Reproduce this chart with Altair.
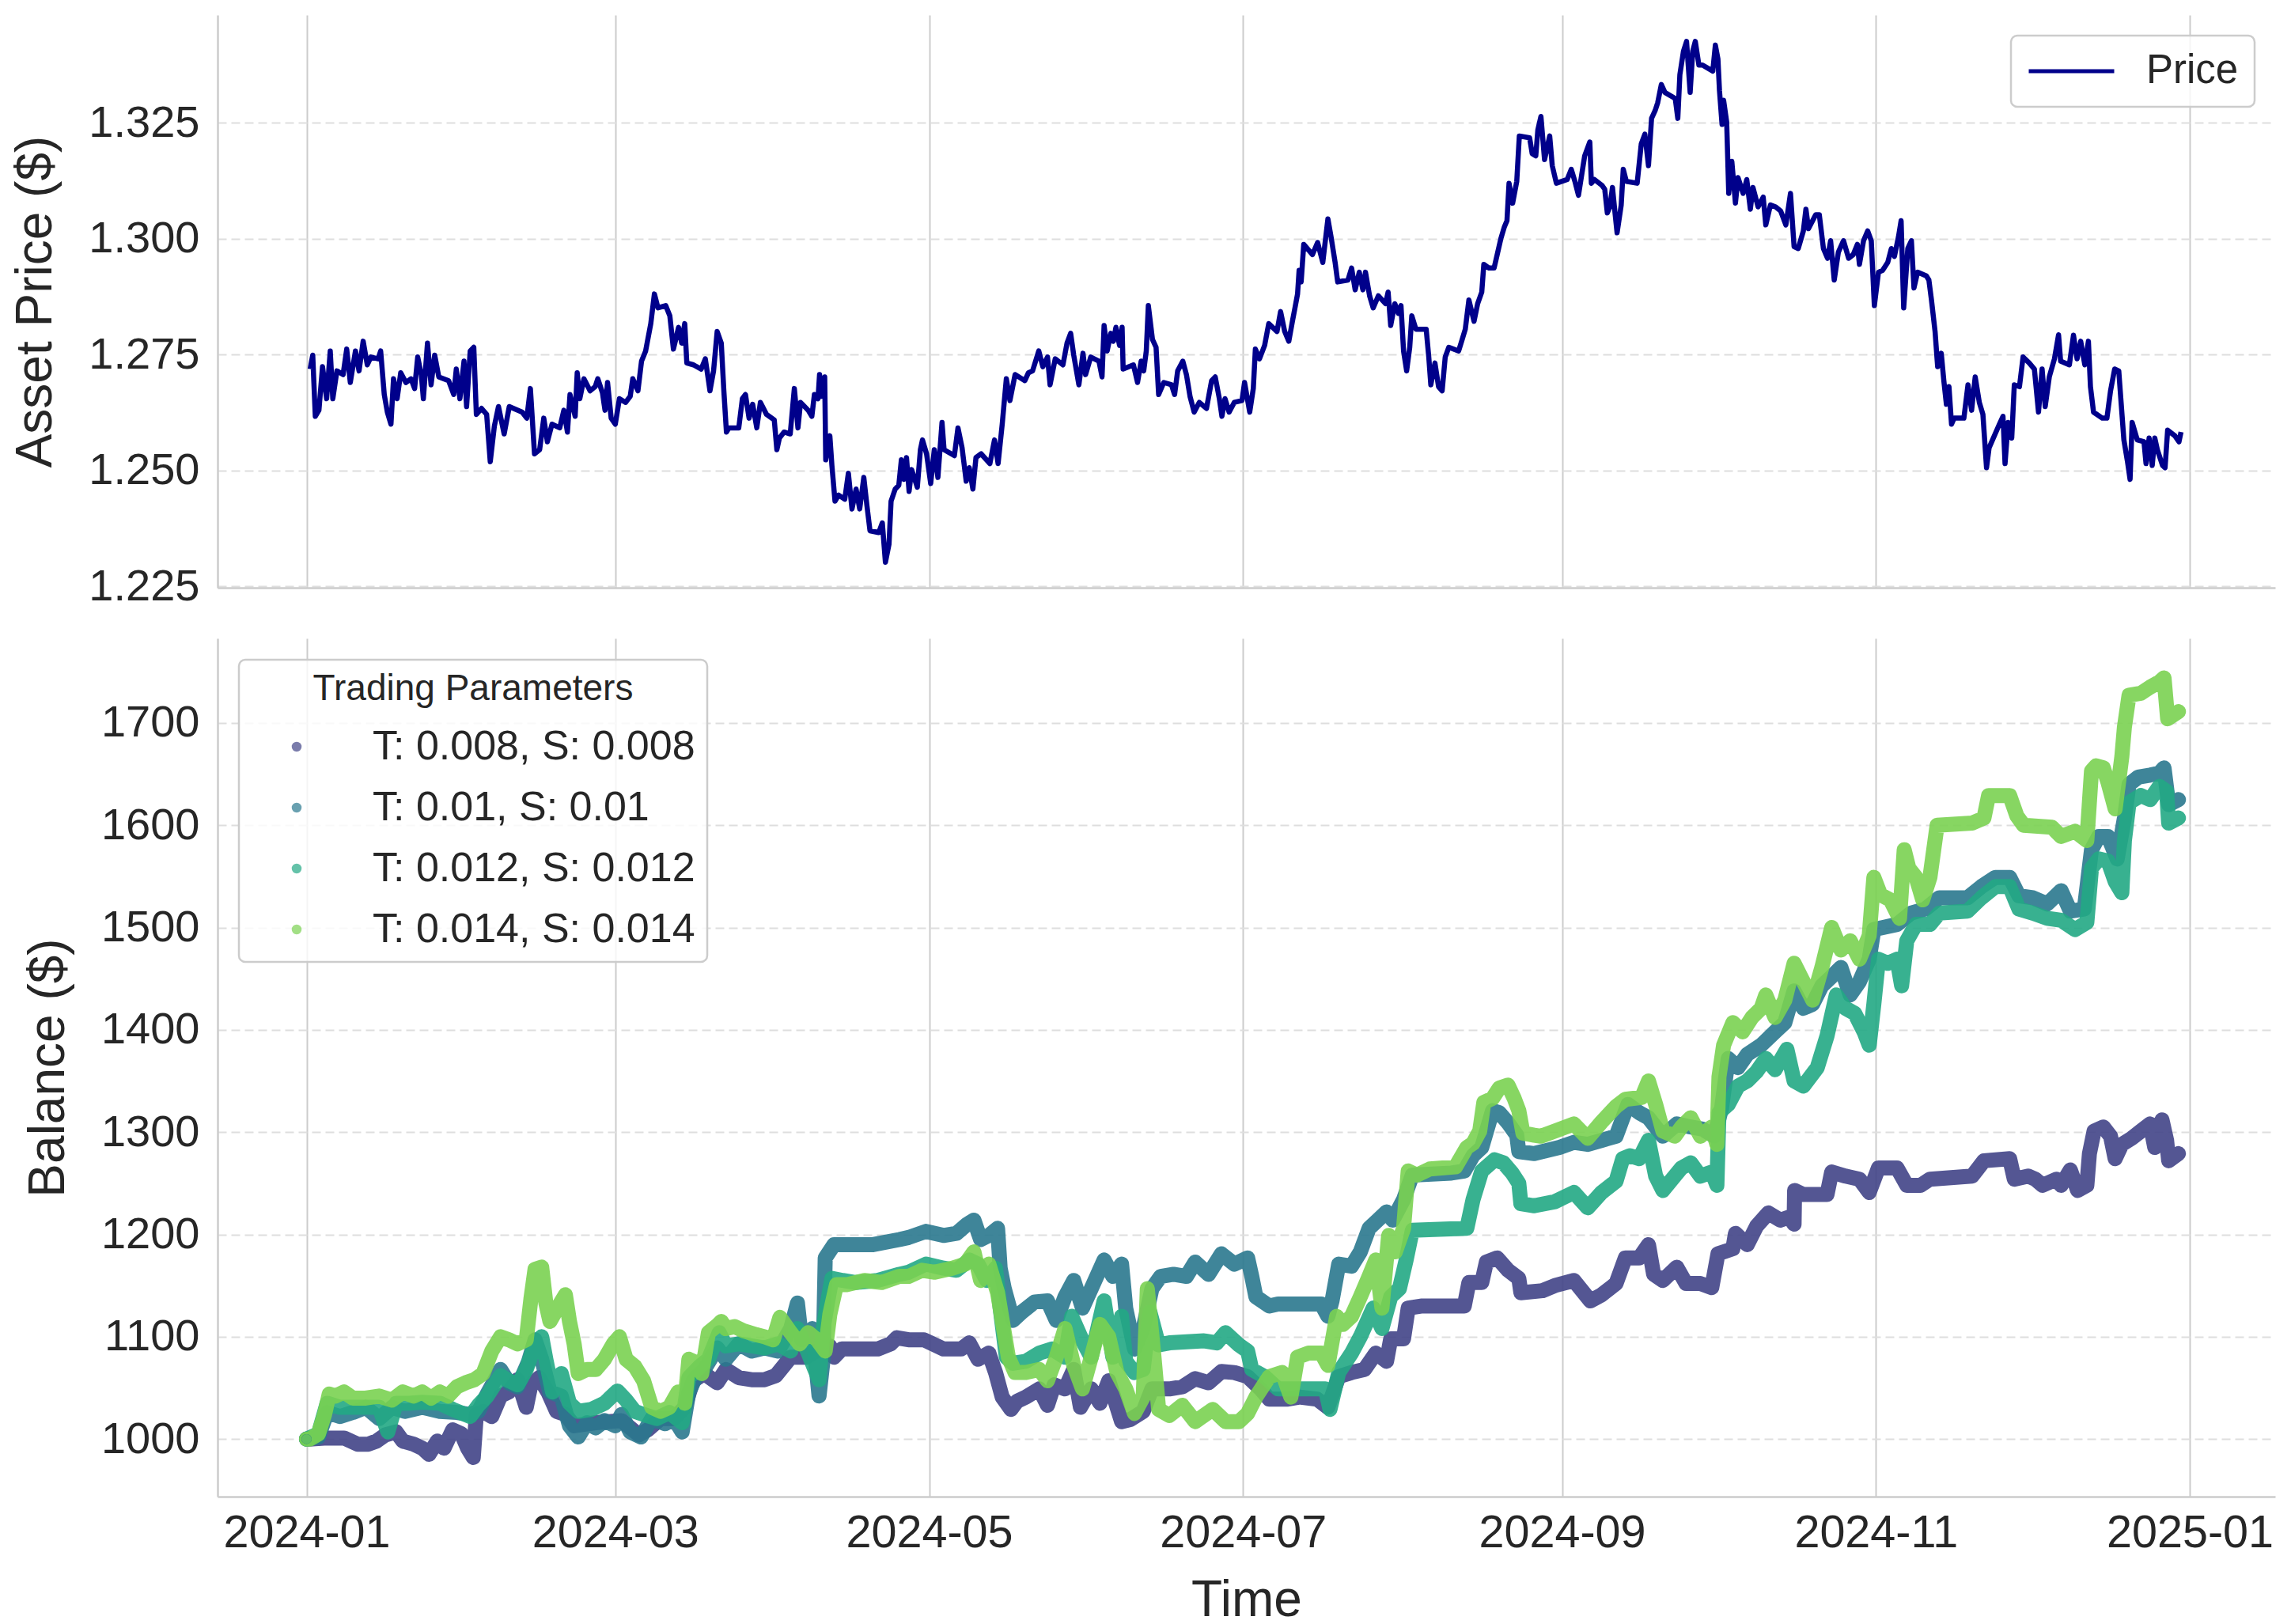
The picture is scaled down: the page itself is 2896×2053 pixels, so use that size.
import altair as alt
import pandas as pd

# ---------------- data (day offset from 2024-01-01, value) -------------
price_points = [
    (0.7,1.2719),(1.2,1.2749),(1.7,1.2617),(2.4,1.2630),(3.1,1.2724),(3.9,1.2655),(4.6,1.2758),(5.1,1.2655),
    (5.9,1.2715),(7.1,1.2707),(7.8,1.2762),(8.5,1.2690),(9.5,1.2758),(10.2,1.2715),(11.0,1.2779),(11.8,1.2728),
    (12.5,1.2745),(13.9,1.2741),(14.4,1.2758),(15.1,1.2664),(15.7,1.2626),(16.4,1.2600),(16.9,1.2698),(17.6,1.2655),
    (18.3,1.2711),(19.3,1.2690),(20.3,1.2698),(21.0,1.2677),(21.6,1.2745),(22.3,1.2707),(22.7,1.2655),(23.5,1.2775),
    (24.2,1.2685),(24.9,1.2749),(25.7,1.2702),(27.6,1.2694),(28.6,1.2664),(29.1,1.2719),(29.8,1.2655),(30.6,1.2736),
    (31.1,1.2638),(31.8,1.2758),(32.5,1.2766),(33.0,1.2621),(34.0,1.2634),(35.0,1.2621),(35.7,1.2519),(36.5,1.2596),
    (37.3,1.2638),(38.4,1.2579),(39.4,1.2638),(41.9,1.2626),(42.8,1.2613),(43.5,1.2677),(44.3,1.2536),(45.3,1.2545),
    (46.1,1.2613),(46.8,1.2562),(47.7,1.2600),(49.2,1.2592),(50.0,1.2630),(50.7,1.2583),(51.2,1.2664),(52.2,1.2617),
    (52.6,1.2711),(53.1,1.2655),(53.9,1.2698),(55.1,1.2672),(56.1,1.2681),(56.6,1.2698),(57.5,1.2668),(58.0,1.2630),
    (58.5,1.2690),(59.2,1.2613),(60.0,1.2600),(60.8,1.2655),(62.0,1.2647),(62.9,1.2660),(63.4,1.2698),(64.4,1.2672),
    (65.1,1.2736),(65.9,1.2758),(66.9,1.2817),(67.6,1.2881),(68.3,1.2851),(69.8,1.2856),(70.6,1.2834),(71.3,1.2762),
    (72.3,1.2809),(72.9,1.2775),(73.5,1.2817),(73.9,1.2732),(75.2,1.2728),(76.7,1.2719),(77.5,1.2741),(78.4,1.2672),
    (79.1,1.2715),(79.8,1.2800),(80.6,1.2775),(81.1,1.2672),(81.6,1.2583),(82.1,1.2592),(84.0,1.2592),(84.7,1.2655),
    (85.3,1.2664),(86.0,1.2613),(86.7,1.2643),(87.5,1.2592),(88.2,1.2647),(89.4,1.2621),(90.9,1.2609),(91.4,1.2545),
    (91.9,1.2570),(92.8,1.2583),
    (94.0,1.2579),(94.8,1.2677),(95.5,1.2592),(96.0,1.2647),(97.5,1.2630),(98.2,1.2617),(98.7,1.2664),(99.4,1.2655),
    (99.7,1.2707),(100.1,1.2660),(100.7,1.2702),(100.9,1.2523),(101.7,1.2575),(102.1,1.2511),(102.7,1.2434),(103.4,1.2447),
    (104.6,1.2438),(105.3,1.2494),(106.0,1.2417),(106.8,1.2460),(107.5,1.2417),(108.3,1.2485),(108.9,1.2425),(109.5,1.2370),
    (111.2,1.2366),(111.9,1.2387),(112.5,1.2302),(113.2,1.2341),(113.6,1.2434),(114.4,1.2460),(115.1,1.2468),(115.6,1.2523),
    (116.1,1.2481),(116.6,1.2528),(117.1,1.2455),(117.6,1.2502),(118.7,1.2464),(119.3,1.2545),(119.7,1.2566),(120.5,1.2536),
    (121.3,1.2472),(122.0,1.2545),(122.7,1.2485),(123.5,1.2604),(123.9,1.2545),(125.9,1.2532),(126.6,1.2592),(127.4,1.2549),
    (128.2,1.2477),(128.8,1.2506),(129.5,1.2460),(130.1,1.2528),(131.1,1.2536),(132.8,1.2515),(133.7,1.2566),(134.4,1.2515),
    (135.2,1.2600),(136.0,1.2698),(136.7,1.2651),(137.7,1.2707),(139.6,1.2694),(140.3,1.2711),(141.1,1.2715),(142.3,1.2758),
    (143.1,1.2724),(144.0,1.2745),(144.5,1.2685),(145.5,1.2741),(147.0,1.2728),(147.8,1.2775),(148.5,1.2796),(149.1,1.2749),
    (150.1,1.2685),(150.9,1.2753),(151.4,1.2707),(152.4,1.2745),(154.0,1.2736),(154.6,1.2702),(155.0,1.2813),(155.6,1.2758),
    (156.3,1.2796),(156.8,1.2779),(157.3,1.2809),(158.0,1.2770),(158.5,1.2809),(158.7,1.2719),(160.7,1.2728),(161.5,1.2690),
    (162.2,1.2736),(162.7,1.2715),(163.2,1.2758),(163.6,1.2856),(164.4,1.2783),(165.1,1.2766),(165.6,1.2664),(166.6,1.2690),
    (168.1,1.2685),(168.7,1.2664),(169.3,1.2715),(170.3,1.2736),(171.0,1.2707),(171.7,1.2660),(172.5,1.2626),(173.5,1.2647),
    (174.9,1.2634),(175.9,1.2694),(176.6,1.2702),(177.4,1.2655),(177.9,1.2617),(178.5,1.2655),(179.3,1.2626),(180.3,1.2647),
    (181.8,1.2651),(182.3,1.2690),(183.3,1.2626),(184.0,1.2677),(184.4,1.2762),(185.2,1.2741),(186.2,1.2770),(187.0,1.2817),
    (188.6,1.2800),(189.3,1.2843),(190.1,1.2800),(190.9,1.2779),(191.6,1.2822),(192.1,1.2851),(192.6,1.2881),(192.9,1.2932),
    (193.3,1.2907),(193.8,1.2988),(195.5,1.2966),(196.5,1.2992),(197.5,1.2949),(198.5,1.3043),(199.1,1.3005),(199.9,1.2949),
    (200.4,1.2907),(202.4,1.2911),(203.1,1.2937),(203.8,1.2890),(204.6,1.2928),(205.3,1.2890),(205.8,1.2928),(206.6,1.2877),
    (207.3,1.2851),(208.3,1.2877),(209.7,1.2860),(210.2,1.2885),(210.7,1.2813),(211.5,1.2860),(212.2,1.2839),(212.7,1.2856),
    (213.2,1.2758),(213.8,1.2715),(214.4,1.2766),(214.8,1.2834),(215.6,1.2805),(217.6,1.2805),(218.1,1.2745),(218.5,1.2685),
    (219.3,1.2732),(220.0,1.2681),(220.7,1.2672),(221.3,1.2745),(222.0,1.2766),(223.9,1.2758),(224.6,1.2783),(225.2,1.2805),
    (225.9,1.2868),(226.9,1.2822),(227.6,1.2860),(228.4,1.2885),(228.8,1.2945),(229.8,1.2937),(230.8,1.2937),(231.5,1.2971),
    (232.1,1.3000),(232.8,1.3026),(233.3,1.3039),(233.7,1.3120),(234.4,1.3077),(235.2,1.3124),(235.7,1.3222),(237.7,1.3218),
    (238.2,1.3184),(238.9,1.3179),(239.3,1.3235),(239.9,1.3264),(240.6,1.3171),(241.6,1.3222),(242.1,1.3158),(242.9,1.3120),
    (245.0,1.3128),(245.8,1.3150),(246.5,1.3124),(247.2,1.3094),
    (248.4,1.3179),(249.4,1.3209),(249.7,1.3120),(250.3,1.3128),(251.8,1.3115),(252.3,1.3107),(252.8,1.3056),(253.3,1.3069),
    (253.8,1.3111),(254.3,1.3056),(254.7,1.3013),(255.5,1.3073),(255.9,1.3150),(256.5,1.3124),(258.6,1.3120),(259.4,1.3205),
    (260.1,1.3226),(260.8,1.3158),(261.4,1.3260),(262.1,1.3277),(262.6,1.3294),(263.3,1.3333),(264.0,1.3316),(266.0,1.3303),
    (266.5,1.3260),(266.9,1.3354),(267.6,1.3405),(268.2,1.3426),(268.9,1.3316),(269.4,1.3405),(269.9,1.3426),(270.6,1.3375),
    (271.3,1.3375),(273.3,1.3362),(273.8,1.3418),(274.3,1.3388),(274.6,1.3320),(275.1,1.3247),(275.4,1.3299),(276.0,1.3252),
    (276.4,1.3098),(277.0,1.3167),(277.7,1.3077),(278.2,1.3132),(279.2,1.3098),(279.9,1.3128),(280.6,1.3064),(281.1,1.3111),
    (282.1,1.3069),(283.1,1.3090),(283.6,1.3030),(284.5,1.3073),(285.5,1.3069),(286.5,1.3060),(287.5,1.3030),(288.4,1.3098),
    (289.1,1.2983),(289.9,1.2979),(290.9,1.3017),(291.4,1.3064),(291.9,1.3022),(293.3,1.3052),(294.0,1.3052),(294.8,1.2979),
    (295.6,1.2958),(296.2,1.2996),(296.9,1.2911),(297.7,1.2971),(298.7,1.2996),(299.7,1.2958),(300.6,1.2966),(301.4,1.2988),
    (301.8,1.2945),(302.6,1.2996),(303.4,1.3017),(304.1,1.2996),(304.7,1.2856),(305.5,1.2928),(306.3,1.2932),(307.3,1.2949),
    (308.0,1.2979),(308.6,1.2962),(309.4,1.3005),(309.9,1.3039),(310.4,1.2851),(311.2,1.2979),(311.9,1.2996),(312.4,1.2894),
    (313.1,1.2928),(314.8,1.2920),(315.3,1.2911),(315.8,1.2868),(316.5,1.2800),(317.0,1.2724),(317.7,1.2753),(318.2,1.2694),
    (318.7,1.2643),(319.2,1.2681),(319.7,1.2600),(320.2,1.2613),(322.1,1.2613),(322.9,1.2685),(323.6,1.2630),(324.3,1.2702),
    (325.1,1.2647),(325.8,1.2621),(326.5,1.2506),(327.0,1.2549),(329.0,1.2600),(329.7,1.2617),(330.1,1.2515),(330.7,1.2604),
    (331.4,1.2570),(331.9,1.2685),(332.9,1.2681),(333.6,1.2745),(334.8,1.2732),(335.8,1.2719),(336.6,1.2626),(337.3,1.2719),
    (337.9,1.2638),(338.7,1.2702),(339.7,1.2741),(340.5,1.2793),(340.9,1.2736),(342.6,1.2728),(343.4,1.2792),(344.1,1.2741),
    (344.8,1.2779),(345.6,1.2728),(346.3,1.2779),(346.7,1.2681),(347.3,1.2626),(349.0,1.2613),(349.9,1.2613),(350.6,1.2672),
    (351.4,1.2719),(352.2,1.2715),(352.6,1.2655),(353.2,1.2566),(353.9,1.2519),(354.4,1.2481),(354.8,1.2604),(355.8,1.2566),
    (357.1,1.2562),(357.5,1.2515),(358.1,1.2570),(358.7,1.2511),(359.2,1.2570),(359.7,1.2545),(360.7,1.2511),(361.2,1.2506),
    (361.7,1.2587),(363.1,1.2575),(363.9,1.2562),(364.3,1.2583),
]

series_names = ["T: 0.008, S: 0.008", "T: 0.01, S: 0.01", "T: 0.012, S: 0.012", "T: 0.014, S: 0.014"]
series_colors = ["#414487", "#2a788e", "#22a884", "#7ad151"]

s008_points = [
    (0,1000),(0.6,1000),(4.0,1001),(7.3,1001),(9.9,995),(12.0,995),(13.6,998),(15.3,1004),(17.4,1007),(18.7,998),
    (20.8,995),(22.5,991),(23.8,985),(25.4,998),(26.7,991),(28.4,1009),(30.1,1005),(31.3,991),(32.4,982),(33.0,1024),
    (34.3,1027),(36.0,1022),(37.7,1042),(39.3,1046),(41.0,1058),(42.7,1031),(43.6,1053),(45.2,1060),(46.9,1046),(48.6,1027),
    (50.3,1024),(52.0,1013),(56.2,1016),(61.2,1018),(64.6,1004),(66.3,1009),(68.8,1020),(71.4,1020),(73.5,1031),(75.1,1057),
    (77.3,1064),(79.8,1055),(81.5,1068),(84.0,1060),(86.5,1058),(89.0,1058),(91.2,1062),(94.1,1080),(97.1,1080),(98.3,1084),
    (100.0,1088),(101.7,1091),(102.5,1080),(104.0,1088),(111.0,1088),(113.5,1093),(114.7,1099),(117.0,1097),
    (120.0,1097),(123.8,1088),(127.2,1088),(128.8,1094),(130.5,1078),(132.6,1084),(133.9,1065),(135.2,1041),(136.9,1029),
    (138.1,1037),(139.8,1041),(142.4,1049),(144.0,1033),(145.3,1053),(147.4,1049),(149.1,1068),(150.4,1031),(152.5,1049),
    (154.2,1035),(155.9,1057),(158.4,1017),(160.1,1019),(162.6,1027),(164.3,1049),(167.7,1049),(170.2,1051),(172.7,1059),
    (175.3,1055),(177.8,1066),(180.3,1065),(182.9,1061),(185.4,1049),(187.1,1039),(190.5,1039),(193.0,1041),(196.4,1039),
    (198.5,1031),(200.6,1061),(203.1,1065),(205.6,1068),(207.8,1084),(209.9,1076),(210.7,1098),(213.2,1098),(214.1,1128),
    (216.6,1130),(225.0,1130),(225.9,1153),(228.4,1153),(229.3,1173),(231.4,1177),(233.5,1165),(235.6,1157),(236.0,1143),
    (240.2,1145),(242.6,1150),(246.3,1155),(249.5,1135),(251.7,1141),(254.5,1152),(256.3,1177),(259.0,1177),(260.8,1190),
    (261.8,1161),(263.6,1155),(266.3,1168),(268.1,1152),(270.9,1152),(273.1,1148),(274.3,1181),(277.2,1186),(277.7,1201),
    (280.0,1190),(281.8,1208),(284.1,1221),(286.4,1214),(288.2,1217),(289.1,1210),(289.2,1243),(290.9,1239),(295.5,1239),
    (296.4,1261),(299.1,1257),(301.8,1254),(303.7,1241),(305.5,1265),(309.1,1265),(311.0,1248),(313.7,1248),(315.5,1254),
    (323.7,1257),(326.0,1272),(331.0,1274),(331.9,1254),(334.6,1257),(336.0,1254),(337.4,1248),(340.1,1254),(341.0,1248),
    (342.8,1263),(344.2,1243),(346.0,1248),(346.5,1279),(347.4,1301),(349.2,1305),(350.6,1296),(351.5,1274),(352.8,1288),
    (354.7,1294),(356.5,1301),(358.3,1308),(359.2,1285),(360.6,1312),(361.5,1292),(361.9,1272),(363.8,1279),
]

s010_points = [
    (0,1000),(2.3,1002),(4.0,1026),(6.5,1022),(9.0,1026),(11.5,1031),(14.1,1020),(16.6,1031),(19.1,1027),(22.5,1031),
    (25.9,1027),(29.2,1026),(31.8,1024),(33.4,1027),(35.1,1044),(37.7,1068),(39.3,1055),(41.0,1051),(43.1,1075),(44.4,1097),
    (45.7,1078),(47.3,1046),(49.5,1042),(51.1,1013),(52.8,1002),(54.5,1016),(56.2,1011),(57.9,1018),(60.0,1013),(61.2,1024),
    (62.9,1007),(65.0,1002),(67.1,1020),(69.7,1015),(71.4,1020),(73.0,1007),(74.3,1046),(75.6,1060),(77.3,1068),(79.8,1089),
    (81.5,1078),(84.0,1093),(86.5,1086),(89.0,1089),(91.6,1086),(94.1,1108),(95.4,1133),(96.2,1097),(98.3,1108),(99.6,1042),
    (100.4,1078),(100.8,1177),(102.5,1190),(110.1,1190),(115.2,1195),
    (117.0,1197),(120.4,1203),(123.8,1199),(126.3,1201),(128.4,1210),(129.7,1214),(131.0,1195),(132.6,1199),(134.3,1206),
    (134.8,1167),(135.6,1147),(137.3,1116),(139.0,1124),(141.5,1134),(144.0,1135),(145.7,1116),(147.4,1139),(149.1,1155),
    (150.8,1128),(152.5,1147),(155.0,1175),(156.7,1159),(158.4,1171),(159.2,1128),(160.9,1088),(162.6,1108),(164.3,1147),
    (166.0,1159),(168.5,1161),(171.0,1159),(172.7,1173),(175.3,1161),(177.8,1181),(180.3,1171),(182.9,1177),(183.7,1159),
    (184.5,1139),(187.1,1130),(188.8,1132),(197.2,1132),(198.5,1120),(199.3,1135),(200.6,1171),(203.1,1169),(204.8,1183),
    (206.5,1206),(208.2,1214),(209.9,1222),(211.1,1214),(213.2,1234),(214.9,1258),(222.5,1260),(225.0,1262),(226.7,1277),
    (228.4,1285),(230.5,1321),(231.8,1319),(233.5,1309),(235.2,1297),(235.6,1281),(238.6,1279),
    (243.5,1285),(246.3,1290),(249.0,1288),(251.7,1292),(254.5,1296),(256.8,1327),(259.0,1319),(260.8,1314),(263.6,1296),
    (266.3,1308),(269.0,1305),(271.3,1303),(273.6,1296),(275.0,1323),(276.3,1372),(278.2,1363),(280.0,1376),(282.7,1385),
    (285.4,1398),(287.3,1407),(289.1,1438),(290.9,1421),(292.7,1425),(294.5,1443),(296.4,1452),(298.2,1461),(300.0,1434),
    (301.8,1447),(303.7,1469),(304.6,1498),(306.4,1500),(309.1,1503),(311.8,1514),(314.6,1518),(317.3,1529),(322.8,1529),
    (325.5,1540),(328.2,1549),(331.0,1549),(332.8,1531),(335.5,1529),(338.3,1523),(341.0,1536),(342.8,1516),(345.5,1518),
    (346.9,1576),(348.3,1589),(350.1,1589),(351.9,1567),(353.3,1607),(354.2,1640),(356.0,1647),(358.3,1649),(360.1,1651),
    (361.0,1656),(361.9,1620),(363.8,1625),
]

s012_points = [
    (0,1000),(2.3,1005),(4.0,1035),(6.5,1031),(14.1,1031),(15.8,1007),(17.4,1035),(19.9,1035),(22.5,1036),(25.9,1035),
    (28.4,1029),(31.8,1022),(33.4,1033),(35.1,1042),(37.7,1062),(39.3,1057),(41.0,1053),(42.7,1068),(44.4,1093),(45.7,1100),
    (46.5,1078),(47.8,1046),(49.5,1064),(51.1,1035),(52.8,1027),(55.4,1029),(57.9,1035),(60.4,1047),(62.1,1038),(63.8,1027),
    (65.5,1024),(68.0,1020),(70.5,1026),(73.0,1016),(74.3,1060),(76.4,1071),(78.1,1078),(80.2,1104),(81.5,1091),(84.0,1093),
    (86.5,1091),(89.0,1089),(91.6,1093),(94.1,1086),(95.4,1108),(97.5,1084),(99.6,1058),(100.4,1108),(101.3,1135),(102.1,1157),
    (104.2,1155),(106.7,1153),(111.0,1155),(115.2,1161),
    (117.0,1163),(120.4,1171),(123.8,1167),(126.3,1165),(128.8,1175),(130.5,1171),(132.2,1155),(133.9,1167),(134.8,1128),
    (136.0,1080),(137.3,1074),(139.8,1076),(142.4,1084),(144.9,1088),(147.4,1080),(148.7,1120),(150.8,1096),(152.5,1080),
    (155.0,1135),(156.7,1080),(158.4,1120),(159.2,1076),(160.9,1065),(162.6,1068),(163.9,1124),(165.6,1092),(167.7,1094),
    (174.4,1096),(176.9,1094),(178.6,1104),(181.2,1092),(182.9,1086),(183.7,1068),(186.2,1061),(188.8,1049),(198.0,1049),
    (198.9,1029),(200.6,1065),(203.1,1084),(204.8,1100),(207.3,1128),(209.0,1108),(210.7,1139),(212.4,1147),(213.7,1175),
    (214.9,1204),(225.5,1206),(226.7,1234),(228.4,1262),(230.9,1273),(232.6,1270),(234.3,1260),(235.6,1250),(236.0,1230),
    (238.6,1228),
    (242.6,1232),(246.3,1241),(249.0,1226),(251.7,1241),(254.5,1252),(255.8,1274),(257.2,1277),(259.0,1274),(260.8,1292),
    (262.2,1257),(263.6,1243),(265.9,1257),(267.2,1265),(269.0,1270),(270.9,1257),(273.1,1261),(274.1,1248),(274.5,1319),
    (276.3,1327),(278.2,1345),(280.0,1350),(281.8,1359),(283.6,1372),(285.4,1361),(287.7,1381),(289.1,1350),(290.9,1345),
    (293.6,1363),(295.5,1394),(297.3,1434),(299.1,1421),(300.9,1416),(302.7,1398),(303.7,1385),(304.6,1425),(305.5,1469),
    (307.3,1465),(309.1,1469),(310.0,1443),(311.0,1487),(312.8,1503),(315.5,1503),(317.3,1514),(322.8,1516),(325.5,1529),
    (328.2,1540),(331.0,1540),(332.8,1518),(335.5,1514),(338.3,1509),(341.0,1507),(343.7,1498),(346.0,1505),(346.9,1558),
    (348.3,1567),(350.1,1565),(351.5,1545),(352.8,1534),(353.3,1585),(354.2,1622),(356.5,1629),(358.3,1625),(360.1,1638),
    (361.5,1633),(361.9,1602),(363.8,1607),
]

s014_points = [
    (0,1000),(0.6,1000),(2.3,1005),(3.5,1024),(4.4,1044),(5.6,1042),(7.3,1046),(9.0,1040),(11.5,1040),(14.1,1042),
    (16.6,1038),(18.7,1046),(20.8,1042),(22.5,1046),(24.2,1040),(25.9,1046),(27.5,1042),(29.2,1051),(30.9,1055),(32.6,1058),
    (34.3,1064),(36.0,1086),(37.7,1100),(39.3,1097),(41.0,1093),(42.7,1097),(43.6,1137),(44.4,1166),(45.7,1168),(46.5,1133),
    (47.3,1115),(49.0,1130),(50.3,1141),(51.1,1115),(52.0,1093),(52.8,1064),(54.5,1068),(56.2,1068),(57.9,1078),(59.6,1093),
    (60.8,1100),(62.1,1078),(63.8,1071),(65.5,1057),(67.1,1031),(68.8,1027),(70.5,1031),(72.2,1046),(73.5,1035),(74.3,1078),
    (75.6,1075),(76.8,1064),(78.1,1104),(79.8,1111),(80.6,1115),(81.5,1108),(83.2,1110),(84.8,1106),(87.4,1102),(89.0,1100),
    (90.7,1097),(92.0,1119),(94.1,1104),(95.8,1093),(97.5,1104),(99.2,1097),(100.8,1086),(101.7,1122),(103.0,1151),(105.1,1151),
    (108.4,1155),(111.8,1153),(115.2,1159),
    (117.0,1159),(119.6,1165),(122.1,1163),(125.5,1167),(128.0,1171),(129.7,1183),(131.0,1155),(132.6,1171),(134.3,1143),
    (135.2,1116),(136.4,1080),(137.7,1065),(139.8,1065),(142.4,1068),(144.0,1057),(145.7,1080),(147.4,1108),(149.1,1072),
    (150.8,1049),(152.5,1080),(154.2,1112),(155.9,1100),(157.5,1065),(159.2,1049),(160.9,1025),(162.6,1041),(163.4,1147),
    (164.7,1080),(165.6,1029),(167.7,1023),(170.2,1033),(172.7,1017),(176.1,1029),(178.6,1017),(181.2,1017),(182.9,1025),
    (184.5,1041),(187.1,1061),(189.6,1065),(191.3,1041),(192.6,1080),(194.7,1084),(197.2,1084),(198.5,1072),(200.2,1120),
    (201.4,1112),(203.1,1120),(204.8,1139),(206.5,1159),(207.8,1175),(209.0,1128),(210.3,1199),(211.6,1183),(213.2,1206),
    (214.1,1262),(215.8,1258),(218.3,1264),(223.3,1266),(225.5,1285),(226.7,1289),(228.0,1301),(228.8,1329),(230.5,1333),
    (231.8,1343),(233.5,1346),(234.7,1333),(235.6,1321),(236.4,1299),(238.6,1297),
    (239.9,1296),(242.6,1301),(246.3,1308),(249.0,1294),(251.7,1310),(254.5,1325),(256.3,1332),(259.5,1334),(260.8,1350),
    (262.2,1327),(263.6,1301),(265.9,1296),(267.2,1305),(269.0,1314),(270.9,1296),(273.1,1305),(274.1,1288),(274.5,1354),
    (275.4,1385),(277.2,1407),(279.1,1398),(280.9,1412),(282.7,1421),(283.6,1434),(285.4,1412),(287.3,1429),(289.1,1465),
    (290.9,1447),(292.7,1429),(294.5,1461),(296.4,1500),(298.2,1478),(300.0,1487),(301.8,1469),(303.7,1492),(304.6,1549),
    (305.9,1532),(307.8,1527),(309.6,1509),(310.5,1576),(311.4,1558),(312.8,1549),(314.1,1527),(315.5,1549),(316.9,1600),
    (323.7,1602),(326.0,1607),(326.9,1629),(331.0,1629),(332.4,1609),(333.7,1600),(339.2,1598),(341.0,1589),(343.7,1594),
    (346.0,1585),(346.9,1653),(347.8,1658),(349.2,1656),(350.1,1642),(351.5,1616),(352.8,1667),(353.3,1696),(354.2,1727),
    (356.5,1729),(358.3,1735),(360.1,1740),(361.0,1744),(361.7,1704),(363.8,1711),
]

price_ticks = [1.225, 1.250, 1.275, 1.300, 1.325]
balance_ticks = [1000, 1100, 1200, 1300, 1400, 1500, 1600, 1700]
month_ticks = ["2024-01-01", "2024-03-01", "2024-05-01", "2024-07-01", "2024-09-01", "2024-11-01", "2025-01-01"]

# ---------------- build tables ----------------
BASE = pd.Timestamp("2024-01-01", tz="UTC")


def to_ms(day):
    return int((BASE + pd.Timedelta(days=day)).value // 10**6)


price_df = pd.DataFrame({
    "t": [to_ms(d) for d, _ in price_points],
    "price": [v for _, v in price_points],
    "series": "Price",
})

rows = []
for name, pts in zip(series_names, [s008_points, s010_points, s012_points, s014_points]):
    for i, (d, v) in enumerate(pts):
        rows.append({"t": to_ms(d), "balance": v, "series": name, "idx": i})
bal_df = pd.DataFrame(rows)
start_df = bal_df[bal_df["idx"] == 0].copy()

tick_ms = [int(pd.Timestamp(s, tz="UTC").value // 10**6) for s in month_ticks]
x_domain = [to_ms(-17.3), to_ms(382.6)]

FONT = "Liberation Sans"
TXT = "#262626"

x_scale = alt.Scale(type="utc", domain=x_domain)

# ---------------- top panel ----------------
top = alt.Chart(price_df).mark_line(strokeWidth=6.5, strokeJoin="round").encode(
    x=alt.X("t:T", scale=x_scale,
            axis=alt.Axis(values=tick_ms, labels=False, ticks=False, title=None, grid=True,
                          gridColor="#cccccc", gridWidth=2, domain=True)),
    y=alt.Y("price:Q", scale=alt.Scale(domain=[1.2247, 1.3483], nice=False, zero=False),
            axis=alt.Axis(values=price_ticks, format=".3f", title="Asset Price ($)",
                          gridDash=[11, 6], gridColor="#dedede", gridWidth=2, labelFontSize=56,
                          labelPadding=23, titlePadding=34)),
    color=alt.Color("series:N", scale=alt.Scale(domain=["Price"], range=["#00008b"]),
                    legend=alt.Legend(title=None, orient="top-right", offset=26, padding=20,
                                      symbolType="stroke", symbolSize=11664, symbolStrokeWidth=5,
                                      clipHeight=50, labelOffset=38, labelFontSize=51)),
).properties(width=2601, height=724)

# ---------------- bottom panel ----------------
col_scale = alt.Scale(domain=series_names, range=series_colors)
bx = alt.X("t:T", scale=x_scale,
           axis=alt.Axis(values=tick_ms, format="%Y-%m", title="Time", ticks=False, grid=True,
                         gridColor="#cccccc", gridWidth=2, domain=True, labelPadding=18,
                         labelFontSize=57.5, titlePadding=25, labelFlush=False))
by = alt.Y("balance:Q", scale=alt.Scale(domain=[943.7, 1782.6], nice=False, zero=False),
           axis=alt.Axis(values=balance_ticks, format="d", title="Balance ($)", gridDash=[11, 6],
                         gridColor="#dedede", gridWidth=2, labelFontSize=56, labelPadding=23,
                         titlePadding=34))

lines = alt.Chart(bal_df).mark_line(strokeWidth=19, strokeCap="round", strokeJoin="round",
                                    opacity=0.9).encode(
    x=bx, y=by,
    stroke=alt.Stroke("series:N", scale=col_scale, legend=None),
    order=alt.Order("idx:Q"),
)
dots = alt.Chart(start_df).mark_circle(size=156, opacity=0.7).encode(
    x=bx, y=by,
    color=alt.Color("series:N", scale=col_scale,
                    legend=alt.Legend(title="Trading Parameters", orient="top-left", offset=27,
                                      padding=15, symbolType="circle", symbolSize=156,
                                      symbolOpacity=0.7, symbolOffset=32, labelOffset=70,
                                      rowPadding=25, titlePadding=23, titleAnchor="middle",
                                      titleAlign="center", labelFontSize=52, titleFontSize=46)),
)
bottom = alt.layer(lines, dots).properties(width=2601, height=1085)

chart = alt.vconcat(top, bottom, spacing=37).resolve_scale(
    color="independent"
).resolve_legend(color="independent").configure_view(stroke=None).configure_axis(
    labelFont=FONT, titleFont=FONT, labelFontSize=56, titleFontSize=64,
    labelColor=TXT, titleColor=TXT, titleFontWeight="normal",
    domainColor="#cccccc", domainWidth=2.5, tickSize=0, labelLimit=1000,
).configure_legend(
    labelFont=FONT, titleFont=FONT, labelColor=TXT, titleColor=TXT, titleFontWeight="normal",
    fillColor="rgba(255,255,255,0.8)", strokeColor="#cccccc", strokeWidth=2.5, cornerRadius=8,
    labelLimit=1000, titleLimit=1000,
).properties(padding={"left": 5, "top": 11, "right": 10, "bottom": 5})

chart.save("out.html", embed_options={"renderer": "svg", "actions": False})
